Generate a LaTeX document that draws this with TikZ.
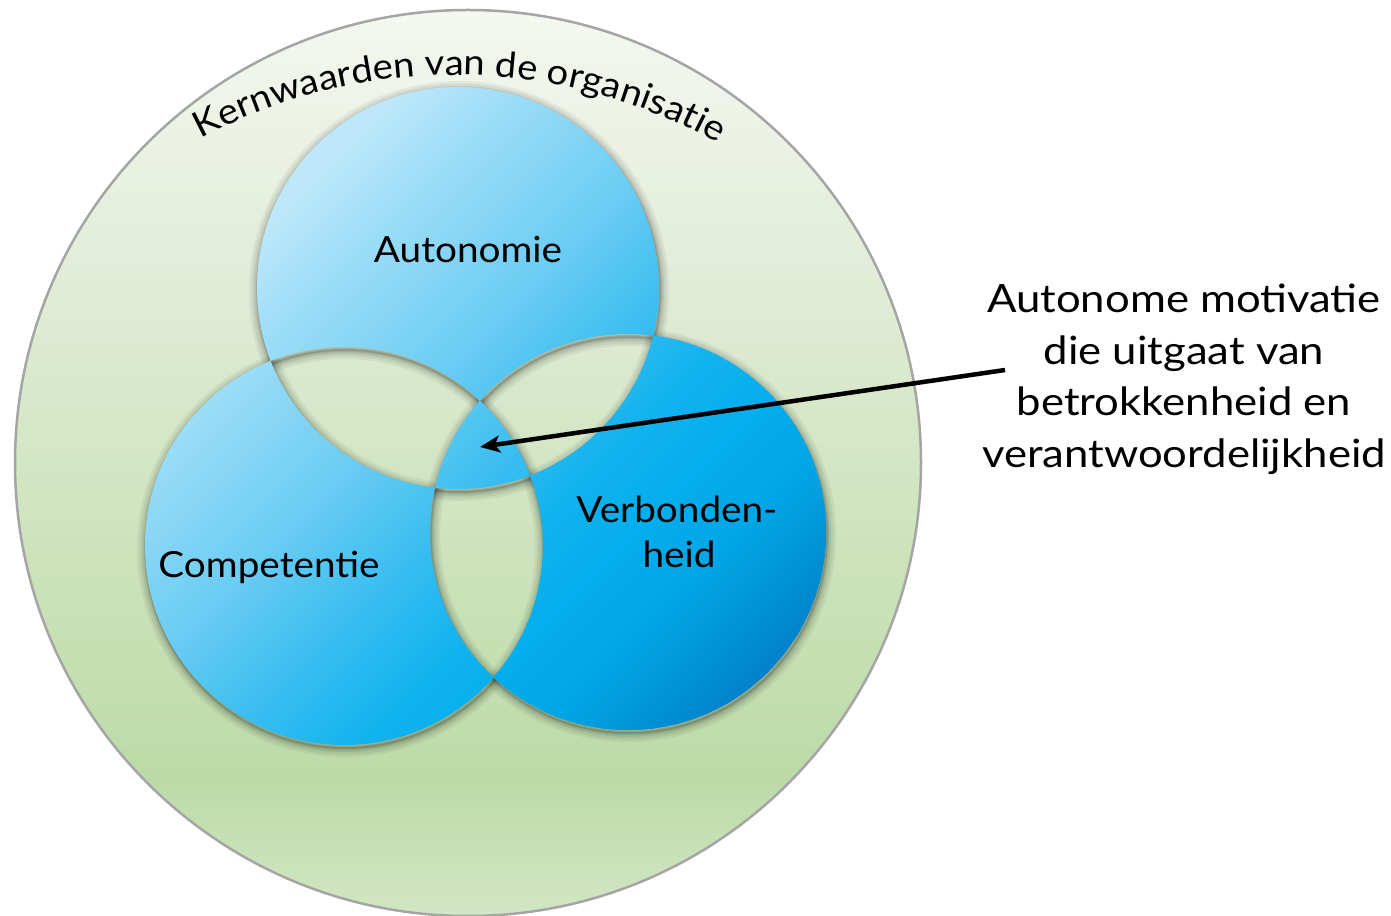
\documentclass[tikz,border=0pt]{standalone}
\usepackage{fontspec}
\setmainfont{Lato}[FakeStretch=1.075]
\newfontfamily\rtfont{Lato}[FakeStretch=1.12]
\usetikzlibrary{arrows.meta,decorations.text}
\definecolor{g0}{HTML}{D2E7C4}
\definecolor{g1}{HTML}{BCDBA8}
\definecolor{g2}{HTML}{D3E6C4}
\definecolor{g3}{HTML}{E0EBD5}
\definecolor{g4}{HTML}{F4F8F1}
\definecolor{outl}{HTML}{A5A5A5}
\definecolor{b0}{HTML}{C8ECFB}
\definecolor{b1}{HTML}{BDE8F9}
\definecolor{b2}{HTML}{9ADCF7}
\definecolor{b3}{HTML}{6FCEF3}
\definecolor{b4}{HTML}{46C1F1}
\definecolor{b5}{HTML}{12B3EF}
\definecolor{b6}{HTML}{05AEEE}
\definecolor{b7}{HTML}{00A5E5}
\definecolor{b8}{HTML}{0082CA}
\definecolor{b9}{HTML}{0072BA}
\pgfdeclareverticalshading{greenbg}{100bp}{color(0bp)=(g0); color(25bp)=(g0); color(32.5bp)=(g1); color(50.2bp)=(g2); color(58.9bp)=(g3); color(75bp)=(g4); color(100bp)=(g4)}
\newcommand\bluestrips[1]{%
  \foreach \pa/\ca/\pb/\cb in {200/b0/490/b1, 490/b1/620/b2, 620/b2/800/b3, 800/b3/930/b4, 930/b4/1100/b5, 1100/b5/1200/b6, 1200/b6/1320/b7, 1320/b7/1480/b8, 1480/b8/1620/b9}{%
    \pgfmathtruncatemacro\nn{(\pb-\pa)/10}%
    \foreach \i in {1,...,\nn}{%
      \pgfmathsetmacro\cl{\pa-915-#1+(\i-1)*(\pb-\pa)/\nn}%
      \pgfmathsetmacro\cu{\cl+(\pb-\pa)/\nn+1.5}%
      \pgfmathsetmacro\fr{100*(\i-0.5)/\nn}%
      \fill[\cb!\fr!\ca] ({(200+\cl)/2},{(200-\cl)/2}) -- ({(1800+\cl)/2},{(1800-\cl)/2}) -- ({(1800+\cu)/2},{(1800-\cu)/2}) -- ({(200+\cu)/2},{(200-\cu)/2}) -- cycle;
    }%
  }%
}
\begin{document}
\begin{tikzpicture}[x=1pt,y=1pt,
  lbl/.style={font=\fontsize{36}{40}\selectfont, inner sep=0pt, anchor=base},
  rt/.style={font=\rtfont\fontsize{39}{45}\selectfont, inner sep=0pt, anchor=base},
  arr/.style={line width=4.5pt, -{Stealth[length=20pt,width=17pt,inset=5pt]}},
  shad/.style={black, opacity=#1}]
\useasboundingbox (0,0) rectangle (1391,915);
\fill[white] (0,0) rectangle (1391,915);
% outer circle
\shade[shading=greenbg] (468,452) circle[radius=453pt];
\draw[line width=2.5pt, color=outl] (468,452) circle[radius=453pt];
% curved title
\path[decorate, decoration={text along path, text align=center,
  text={|\fontsize{35.5}{40}\selectfont|Kernwaarden van de organisatie}}]
  (455,299) ++(132:541pt) arc[start angle=132, end angle=47, radius=541pt];
% shadows
\foreach \w/\o in {18/0.05, 13/0.06, 8/0.08, 4/0.10, 1.5/0.12}{
  \draw[shad=\o, line width=\w pt] (459,624) circle[radius=201pt];
  \draw[shad=\o, line width=\w pt] (345,366) circle[radius=199pt];
  \draw[shad=\o, line width=\w pt] (629,380) circle[radius=198pt];
}
% blue regions (even-odd)
\begin{scope}[even odd rule]
  \clip (458,627) circle[radius=201pt] (344,369) circle[radius=199pt] (628,383) circle[radius=198pt];
  \bluestrips{0}
\end{scope}
\begin{scope}[even odd rule]
  \clip (628,383) circle[radius=198pt];
  \clip (0,0) rectangle (1391,915) (458,627) circle[radius=201pt];
  \clip (0,0) rectangle (1391,915) (344,369) circle[radius=199pt];
  \bluestrips{40}
\end{scope}
% labels
\node[lbl] (aut) at (468,652) {Autonomie};
\node[lbl] (comp) at (269,337) {Competentie};
\node[lbl] (verb1) at (677,392) {Verbonden-};
\node[lbl] (verb2) at (679,347) {heid};
\node[rt] (r1) at (1184,602) {Autonome motivatie};
\node[rt] (r2) at (1184,550.5) {die uitgaat van};
\node[rt] (r3) at (1184,499) {betrokkenheid en};
\node[rt] (r4) at (1184,447.5) {verantwoordelijkheid};
% arrow
\coordinate (as) at (1005,545);
\coordinate (tri) at (480,468);
\draw[arr] (as) -- (tri);
\end{tikzpicture}
\end{document}
